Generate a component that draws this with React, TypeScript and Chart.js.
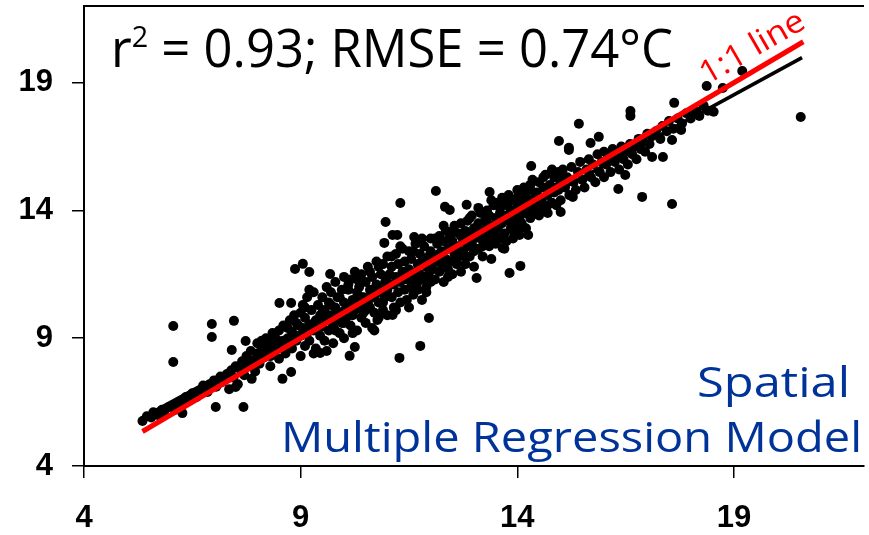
import React, { useEffect, useRef } from "react";
import { Chart, registerables } from "chart.js";

Chart.register(...registerables);

// Axis ticks
const xTicks = [4, 9, 14, 19];
const yTicks = [4, 9, 14, 19];

const band5to7: number[][] = [
  [5.35, 5.76], [5.45, 5.95], [5.55, 5.9], [5.6, 6.1], [5.7, 6.0], [5.8, 6.2], [5.85, 6.05], [5.95, 6.3],
  [6.05, 6.35], [6.1, 6.2], [6.2, 6.5], [6.3, 6.45], [6.35, 6.7], [6.45, 6.6], [6.5, 6.85], [6.6, 6.7],
  [6.7, 6.95], [6.75, 7.15], [6.85, 6.9], [6.9, 7.2], [7.0, 7.35], [7.05, 7.1], [7.15, 7.5], [7.2, 7.3],
  [7.3, 7.6], [7.35, 7.0], [7.4, 7.75], [7.45, 7.45], [7.5, 7.9], [7.55, 7.2],
];
const band7to9: number[][] = [
  [7.6, 7.8], [7.65, 8.1], [7.7, 7.55], [7.75, 8.3], [7.8, 7.9], [7.85, 8.5], [7.9, 8.1], [7.95, 7.7],
  [8.0, 8.4], [8.0, 8.8], [8.05, 8.0], [8.1, 8.6], [8.15, 8.25], [8.2, 9.0], [8.25, 8.45], [8.3, 7.9],
  [8.3, 8.75], [8.35, 9.2], [8.4, 8.5], [8.45, 8.95], [8.5, 8.2], [8.5, 9.3], [8.55, 8.7], [8.6, 9.5],
  [8.65, 8.4], [8.7, 9.0], [8.75, 9.7], [8.8, 8.6], [8.8, 9.25], [8.85, 9.9], [8.9, 8.9], [8.95, 9.5],
  [9.0, 8.3], [9.0, 9.1], [9.0, 10.0],
  [8.0, 8.1], [8.2, 8.7], [8.4, 9.0], [8.6, 8.9], [8.7, 9.4], [8.9, 9.6], [8.3, 8.3], [8.1, 8.9],
];
const band9to10: number[][] = [
  [9.05, 9.4], [9.05, 10.3], [9.1, 8.7], [9.1, 9.8], [9.15, 9.2], [9.15, 10.6], [9.2, 9.55], [9.2, 8.9],
  [9.25, 10.1], [9.3, 9.3], [9.3, 10.8], [9.35, 9.7], [9.35, 8.6], [9.4, 10.3], [9.45, 9.1], [9.45, 9.9],
  [9.5, 10.6], [9.5, 9.45], [9.55, 8.9], [9.55, 10.1], [9.6, 9.7], [9.6, 11.0], [9.65, 9.3], [9.65, 10.4],
  [9.7, 9.9], [9.7, 10.8], [9.75, 9.5], [9.75, 8.8], [9.8, 10.2], [9.8, 11.2], [9.85, 9.7], [9.85, 10.6],
  [9.9, 9.2], [9.9, 10.0], [9.95, 10.9], [9.95, 9.6], [10.0, 10.4], [10.0, 9.0], [10.0, 11.4], [10.05, 9.8],
  [9.1, 10.2], [9.2, 10.9], [9.3, 8.4], [9.4, 9.5], [9.5, 10.0], [9.6, 8.5], [9.7, 10.3], [9.8, 9.3],
  [9.9, 10.6], [10.0, 9.6],
];
const band10to11: number[][] = [
  [10.1, 10.2], [10.1, 10.9], [10.15, 9.5], [10.15, 11.3], [10.2, 10.5], [10.2, 9.9], [10.25, 11.6], [10.25, 10.1],
  [10.3, 9.3], [10.3, 10.8], [10.35, 11.0], [10.35, 10.3], [10.4, 9.8], [10.4, 11.5], [10.45, 10.6], [10.45, 10.0],
  [10.5, 11.2], [10.5, 9.6], [10.55, 10.4], [10.55, 11.8], [10.6, 10.9], [10.6, 10.2], [10.65, 9.4], [10.65, 11.4],
  [10.7, 10.6], [10.7, 10.0], [10.75, 11.1], [10.75, 12.0], [10.8, 10.4], [10.8, 9.8], [10.85, 11.5], [10.85, 10.8],
  [10.9, 10.1], [10.9, 11.9], [10.95, 10.6], [10.95, 11.2], [11.0, 9.9], [11.0, 12.2], [11.0, 10.9], [11.05, 11.5],
  [10.1, 11.1], [10.2, 9.2], [10.3, 11.3], [10.4, 10.6], [10.5, 10.1], [10.6, 11.6], [10.7, 9.3], [10.8, 11.8],
  [10.9, 10.4], [11.0, 11.4],
];
const band11to12: number[][] = [
  [11.1, 10.6], [11.1, 11.8], [11.15, 11.1], [11.15, 10.2], [11.2, 12.3], [11.2, 11.4], [11.25, 10.8], [11.25, 11.9],
  [11.3, 10.4], [11.3, 11.2], [11.35, 12.5], [11.35, 11.6], [11.4, 10.9], [11.4, 12.0], [11.45, 11.3], [11.45, 10.5],
  [11.5, 12.4], [11.5, 11.7], [11.55, 11.0], [11.55, 12.1], [11.6, 10.7], [11.6, 11.5], [11.65, 12.7], [11.65, 11.2],
  [11.7, 11.9], [11.7, 10.9], [11.75, 12.3], [11.75, 11.5], [11.8, 10.5], [11.8, 12.0], [11.85, 11.3], [11.85, 12.6],
  [11.9, 11.8], [11.9, 11.0], [11.95, 12.2], [11.95, 11.5], [12.0, 12.9], [12.0, 11.2], [12.0, 12.4], [12.05, 11.7],
  [11.1, 12.2], [11.2, 10.1], [11.3, 12.6], [11.4, 11.4], [11.5, 10.2], [11.6, 12.4], [11.7, 11.2], [11.8, 12.9],
  [11.9, 10.8], [12.0, 11.9],
];
const band12to13: number[][] = [
  [12.1, 12.0], [12.1, 11.3], [12.15, 12.7], [12.15, 12.2], [12.2, 11.6], [12.2, 13.0], [12.25, 12.4], [12.25, 11.9],
  [12.3, 11.2], [12.3, 12.8], [12.35, 12.1], [12.35, 13.2], [12.4, 11.7], [12.4, 12.5], [12.45, 13.0], [12.45, 12.0],
  [12.5, 11.5], [12.5, 12.8], [12.55, 13.4], [12.55, 12.3], [12.6, 11.9], [12.6, 12.6], [12.65, 13.1], [12.65, 12.2],
  [12.7, 11.6], [12.7, 13.5], [12.75, 12.8], [12.75, 12.4], [12.8, 13.2], [12.8, 11.9], [12.85, 12.6], [12.85, 13.6],
  [12.9, 12.2], [12.9, 13.0], [12.95, 12.7], [12.95, 13.8], [13.0, 12.4], [13.0, 13.3], [13.0, 11.8], [13.05, 13.0],
  [12.1, 12.9], [12.2, 12.3], [12.3, 13.4], [12.4, 11.4], [12.5, 13.2], [12.6, 12.1], [12.7, 13.0], [12.8, 12.2],
  [12.9, 13.7], [13.0, 12.9],
];
const band13to14: number[][] = [
  [13.1, 13.5], [13.1, 12.5], [13.15, 12.9], [13.15, 13.9], [13.2, 13.2], [13.2, 12.2], [13.25, 13.6], [13.25, 12.8],
  [13.3, 14.0], [13.3, 13.1], [13.35, 12.6], [13.35, 13.8], [13.4, 13.4], [13.4, 12.9], [13.45, 14.2], [13.45, 13.1],
  [13.5, 12.7], [13.5, 13.7], [13.55, 14.3], [13.55, 13.3], [13.6, 12.9], [13.6, 13.9], [13.65, 13.5], [13.65, 14.5],
  [13.7, 13.1], [13.7, 13.8], [13.75, 14.2], [13.75, 12.8], [13.8, 13.6], [13.8, 14.6], [13.85, 13.3], [13.85, 14.0],
  [13.9, 13.8], [13.9, 12.9], [13.95, 14.4], [13.95, 13.5], [14.0, 14.1], [14.0, 13.2], [14.0, 14.8], [14.05, 13.7],
  [13.1, 14.1], [13.2, 12.6], [13.3, 13.5], [13.4, 14.4], [13.5, 13.0], [13.6, 14.1], [13.7, 12.5], [13.8, 14.3],
  [13.9, 13.2], [14.0, 14.5],
];
const band14to16: number[][] = [
  [14.1, 14.3], [14.1, 13.5], [14.15, 14.9], [14.15, 13.9], [14.2, 14.5], [14.2, 13.3], [14.25, 14.1], [14.3, 14.8],
  [14.3, 13.7], [14.35, 15.2], [14.35, 14.3], [14.4, 14.0], [14.45, 14.7], [14.5, 13.8], [14.5, 15.1], [14.55, 14.4],
  [14.6, 14.9], [14.6, 14.1], [14.65, 15.4], [14.7, 14.6], [14.7, 13.9], [14.75, 15.0], [14.8, 14.3], [14.85, 15.3],
  [14.85, 14.7], [14.9, 14.2], [14.95, 15.5], [14.95, 14.8], [15.0, 15.1], [15.0, 14.4],
  [14.1, 14.7], [14.2, 13.9], [14.3, 15.0], [14.4, 14.5], [14.5, 14.3], [14.6, 15.3], [14.7, 14.2], [14.8, 15.6],
  [14.9, 14.9], [15.0, 15.4],
  [15.05, 15.6], [15.1, 14.9], [15.15, 15.3], [15.2, 14.6], [15.25, 15.7], [15.3, 15.1], [15.35, 14.8], [15.4, 15.5],
  [15.45, 15.9], [15.5, 15.2], [15.55, 14.9], [15.6, 15.6], [15.65, 16.0], [15.7, 15.3], [15.75, 15.8], [15.8, 15.1],
  [15.85, 16.2], [15.9, 15.5], [15.95, 15.9], [16.0, 15.3], [16.0, 16.3],
];
const band16to19: number[][] = [
  [16.05, 15.8], [16.1, 16.1], [16.15, 15.5], [16.2, 16.4], [16.25, 15.9], [16.3, 16.2], [16.35, 15.6], [16.4, 16.5],
  [16.45, 16.0], [16.5, 16.3], [16.55, 15.8], [16.6, 16.6], [16.65, 16.2], [16.7, 16.5], [16.75, 16.0], [16.8, 16.8],
  [16.85, 16.4], [16.9, 16.7], [16.95, 16.3], [17.0, 17.0], [17.05, 16.6],
  [17.1, 16.9], [17.2, 17.1], [17.3, 16.8], [17.35, 17.3], [17.45, 17.1], [17.5, 17.5], [17.6, 17.2], [17.7, 17.6],
  [17.8, 17.4], [17.9, 17.8], [18.0, 17.6], [18.1, 17.9], [18.2, 17.7], [18.3, 18.1], [18.4, 17.9],
];
const outliers: number[][] = [
  [6.06, 9.48], [6.06, 8.07], [6.95, 9.56], [6.95, 9.05], [7.46, 9.68], [7.04, 6.31], [7.68, 6.31], [6.27, 6.07],
  [8.58, 7.41], [8.78, 7.68], [8.51, 10.38], [8.78, 10.38], [7.41, 8.54], [7.87, 7.41], [7.5, 7.09], [7.73, 8.89],
  [10.96, 13.55], [8.87, 11.71], [9.05, 11.91], [9.2, 11.59], [9.68, 11.51], [11.12, 13.04], [11.23, 13.04],
  [10.93, 12.73], [11.62, 12.96], [11.96, 9.79], [11.76, 8.7], [11.28, 8.23], [10.13, 8.31], [10.25, 8.66],
  [9.45, 8.42], [11.12, 9.91], [10.77, 9.71], [11.3, 14.29],
  [14.32, 15.74], [12.12, 14.76], [15.19, 16.37], [12.33, 14.14], [12.44, 14.02], [12.83, 14.22], [13.36, 14.72],
  [15.0, 13.94], [14.05, 13.04], [14.25, 13.04], [13.66, 12.53], [14.07, 11.83], [13.82, 11.55], [13.06, 11.36],
  [13.4, 12.1], [15.28, 14.53],
  [16.61, 17.89], [16.61, 17.7], [17.62, 18.21], [18.37, 18.87], [15.42, 17.39], [14.96, 16.72], [15.19, 16.45],
  [15.88, 16.88], [15.69, 16.64], [17.11, 16.09], [17.36, 16.09], [16.49, 15.39], [16.33, 14.84], [16.88, 14.53],
  [17.57, 14.25], [18.53, 17.86], [17.57, 16.76], [17.78, 17.15], [18.14, 17.86],
  [20.54, 17.66], [19.19, 19.46], [18.74, 18.79],
];

// Fitted regression line and 1:1 line end points
const fitLine: number[][] = [[5.33, 5.88], [20.57, 19.98]];
const oneToOneLine: number[][] = [[5.35, 5.35], [20.6, 20.6]];

const statsText = ["r", "2", " = 0.93; RMSE = 0.74°C"];
const modelLabel = ["Spatial", "Multiple Regression Model"];
const oneToOneLabel = "1:1 line";

const TEXT_FONT = '"Open Sans", "DejaVu Sans", sans-serif';
const TICK_FONT = '"Liberation Sans", Arial, sans-serif';

type Part = { t: string; size: number; dy: number };

function drawFitted(ctx: CanvasRenderingContext2D, parts: Part[], x: number, y: number, width: number, color: string) {
  let total = 0;
  const ws: number[] = [];
  for (const p of parts) {
    ctx.font = `${p.size}px ${TEXT_FONT}`;
    const w = ctx.measureText(p.t).width;
    ws.push(w);
    total += w;
  }
  ctx.save();
  ctx.translate(x, y);
  ctx.scale(width / total, 1);
  ctx.fillStyle = color;
  ctx.textBaseline = "alphabetic";
  ctx.textAlign = "left";
  let cx = 0;
  parts.forEach((p, i) => {
    ctx.font = `${p.size}px ${TEXT_FONT}`;
    ctx.fillText(p.t, cx, p.dy);
    cx += ws[i];
  });
  ctx.restore();
}

const annotations = {
  id: "annotations",
  afterDraw(chart: any) {
    const ctx: CanvasRenderingContext2D = chart.ctx;
    const a = chart.chartArea;
    ctx.save();
    // top frame line
    ctx.strokeStyle = "#000";
    ctx.lineWidth = 2;
    ctx.beginPath();
    ctx.moveTo(a.left, a.top);
    ctx.lineTo(a.right, a.top);
    ctx.stroke();

    // statistics text
    drawFitted(
      ctx,
      [
        { t: statsText[0], size: 53, dy: 0 },
        { t: statsText[1], size: 30, dy: -20 },
        { t: statsText[2], size: 53, dy: 0 },
      ],
      111,
      67,
      562,
      "#000"
    );

    // model name
    drawFitted(ctx, [{ t: modelLabel[0], size: 42, dy: 0 }], 697, 397, 153, "#003399");
    drawFitted(ctx, [{ t: modelLabel[1], size: 42, dy: 0 }], 281, 452, 581, "#003399");

    // 1:1 label, rotated along the line
    ctx.save();
    ctx.translate(707, 85);
    ctx.rotate(-30 * Math.PI / 180);
    drawFitted(ctx, [{ t: oneToOneLabel, size: 32, dy: 0 }], 0, 0, 116, "#ff0000");
    ctx.restore();
    ctx.restore();
  },
};

const noPad = (s: any) => {
  s.paddingTop = 0;
  s.paddingBottom = 0;
  s.paddingLeft = 0;
  s.paddingRight = 0;
};

export default function App() {
  const ref = useRef<HTMLCanvasElement>(null);
  useEffect(() => {
    if (!ref.current) return;
    const pts = [
      ...band5to7, ...band7to9, ...band9to10, ...band10to11, ...band11to12,
      ...band12to13, ...band13to14, ...band14to16, ...band16to19, ...outliers,
    ].map(([x, y]) => ({ x, y }));
    const chart = new Chart(ref.current, {
      type: "scatter",
      data: {
        datasets: [
          {
            type: "line",
            data: oneToOneLine.map(([x, y]) => ({ x, y })),
            borderColor: "#ff0000",
            borderWidth: 5,
            pointRadius: 0,
            fill: false,
          },
          {
            type: "line",
            data: fitLine.map(([x, y]) => ({ x, y })),
            borderColor: "#000",
            borderWidth: 3.5,
            pointRadius: 0,
            fill: false,
          },
          {
            data: pts,
            backgroundColor: "#000",
            borderWidth: 0,
            pointRadius: 5,
          },
        ],
      } as any,
      options: {
        responsive: false,
        animation: false,
        devicePixelRatio: 1,
        layout: { padding: { top: 6, right: 0, left: 0, bottom: 0 } },
        plugins: { legend: { display: false }, tooltip: { enabled: false } },
        scales: {
          x: {
            type: "linear",
            min: 4,
            max: 22,
            afterBuildTicks: (s: any) => { s.ticks = xTicks.map((v) => ({ value: v })); },
            afterFit: (s: any) => { s.height = 69; noPad(s); },
            grid: { drawOnChartArea: false, drawTicks: true, tickLength: 12, color: "#000", lineWidth: 1.5 },
            border: { display: true, color: "#000", width: 2 },
            ticks: { color: "#000", font: { family: TICK_FONT, size: 31, weight: "bold" }, padding: 22, maxRotation: 0 },
          },
          y: {
            type: "linear",
            min: 4,
            max: 22,
            afterBuildTicks: (s: any) => { s.ticks = yTicks.map((v) => ({ value: v })); },
            afterFit: (s: any) => { s.width = 84; noPad(s); },
            grid: { drawOnChartArea: false, drawTicks: true, tickLength: 12, color: "#000", lineWidth: 1.5 },
            border: { display: true, color: "#000", width: 2 },
            ticks: { color: "#000", font: { family: TICK_FONT, size: 31, weight: "bold" }, padding: 19 },
          },
        },
      } as any,
      plugins: [annotations],
    });
    return () => chart.destroy();
  }, []);
  return (
    <div style={{ position: "fixed", left: 0, top: 0, width: 869, height: 535, background: "#fff" }}>
      <canvas ref={ref} width={869} height={535} />
    </div>
  );
}
